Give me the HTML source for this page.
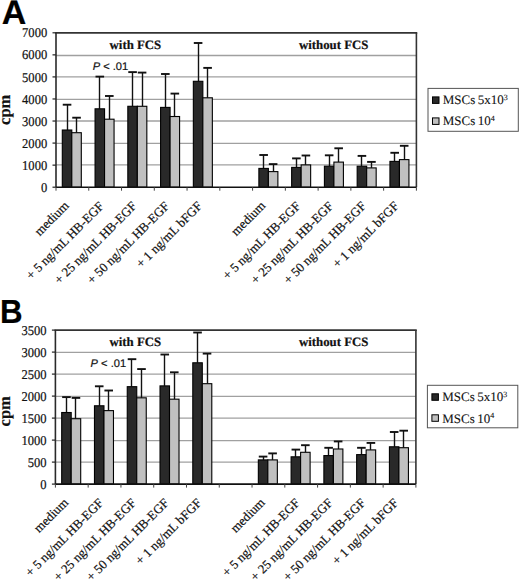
<!DOCTYPE html>
<html><head><meta charset="utf-8"><style>
html,body{margin:0;padding:0;background:#fff;}
body{width:520px;height:581px;overflow:hidden;}
svg{display:block;text-rendering:geometricPrecision;}
text{stroke:#111;stroke-width:0.2px;}
.lg{stroke-width:0.1px;}
.t{font-family:"Liberation Serif",serif;font-size:13.5px;fill:#111;}
.lg{font-family:"Liberation Serif",serif;font-size:13px;fill:#111;word-spacing:-0.8px;}
.xl{font-family:"Liberation Serif",serif;font-size:12.9px;fill:#111;}
.sup{font-size:8px;}
.tb{font-family:"Liberation Serif",serif;font-size:12.8px;font-weight:bold;fill:#111;}
.cpm{font-family:"Liberation Serif",serif;font-size:16.5px;font-weight:bold;fill:#111;}
.let{font-family:"Liberation Sans",sans-serif;font-size:34px;font-weight:bold;fill:#000;}
.p{font-family:"Liberation Sans",sans-serif;font-size:11.1px;fill:#111;}
</style></head><body>
<svg width="520" height="581" viewBox="0 0 520 581">
<rect width="520" height="581" fill="#fff"/>
<line x1="56" y1="164.9" x2="416.4" y2="164.9" stroke="#a0a0a0" stroke-width="1.3"/>
<line x1="56" y1="143.3" x2="416.4" y2="143.3" stroke="#a0a0a0" stroke-width="1.3"/>
<line x1="56" y1="121" x2="416.4" y2="121" stroke="#a0a0a0" stroke-width="1.3"/>
<line x1="56" y1="99.3" x2="416.4" y2="99.3" stroke="#a0a0a0" stroke-width="1.3"/>
<line x1="56" y1="76.9" x2="416.4" y2="76.9" stroke="#a0a0a0" stroke-width="1.3"/>
<line x1="56" y1="55.5" x2="416.4" y2="55.5" stroke="#a0a0a0" stroke-width="1.3"/>
<line x1="52.5" y1="187.2" x2="56" y2="187.2" stroke="#222" stroke-width="1.2"/>
<text x="0" y="0" text-anchor="end" class="t" transform="translate(47.2 191.8) scale(0.93 1)">0</text>
<line x1="52.5" y1="165.14" x2="56" y2="165.14" stroke="#222" stroke-width="1.2"/>
<text x="0" y="0" text-anchor="end" class="t" transform="translate(47.2 169.74) scale(0.93 1)">1000</text>
<line x1="52.5" y1="143.09" x2="56" y2="143.09" stroke="#222" stroke-width="1.2"/>
<text x="0" y="0" text-anchor="end" class="t" transform="translate(47.2 147.69) scale(0.93 1)">2000</text>
<line x1="52.5" y1="121.03" x2="56" y2="121.03" stroke="#222" stroke-width="1.2"/>
<text x="0" y="0" text-anchor="end" class="t" transform="translate(47.2 125.63) scale(0.93 1)">3000</text>
<line x1="52.5" y1="98.97" x2="56" y2="98.97" stroke="#222" stroke-width="1.2"/>
<text x="0" y="0" text-anchor="end" class="t" transform="translate(47.2 103.57) scale(0.93 1)">4000</text>
<line x1="52.5" y1="76.91" x2="56" y2="76.91" stroke="#222" stroke-width="1.2"/>
<text x="0" y="0" text-anchor="end" class="t" transform="translate(47.2 81.51) scale(0.93 1)">5000</text>
<line x1="52.5" y1="54.86" x2="56" y2="54.86" stroke="#222" stroke-width="1.2"/>
<text x="0" y="0" text-anchor="end" class="t" transform="translate(47.2 59.46) scale(0.93 1)">6000</text>
<line x1="52.5" y1="32.8" x2="56" y2="32.8" stroke="#222" stroke-width="1.2"/>
<text x="0" y="0" text-anchor="end" class="t" transform="translate(47.2 37.4) scale(0.93 1)">7000</text>
<line x1="67.5" y1="104.71" x2="67.5" y2="130.01" stroke="#111" stroke-width="1.4"/>
<line x1="62.75" y1="104.71" x2="71.35" y2="104.71" stroke="#111" stroke-width="1.9"/>
<rect x="62.3" y="130.01" width="9.5" height="57.19" fill="#292929" stroke="#000" stroke-width="1.1"/>
<line x1="76.5" y1="117.7" x2="76.5" y2="132.7" stroke="#111" stroke-width="1.4"/>
<line x1="72.25" y1="117.7" x2="80.85" y2="117.7" stroke="#111" stroke-width="1.9"/>
<rect x="71.8" y="132.7" width="9.5" height="54.5" fill="#c0c0c0" stroke="#000" stroke-width="1.1"/>
<line x1="99.5" y1="76.61" x2="99.5" y2="108.81" stroke="#111" stroke-width="1.4"/>
<line x1="95.51" y1="76.61" x2="104.11" y2="76.61" stroke="#111" stroke-width="1.9"/>
<rect x="95.06" y="108.81" width="9.5" height="78.39" fill="#292929" stroke="#000" stroke-width="1.1"/>
<line x1="109.5" y1="95.99" x2="109.5" y2="119.2" stroke="#111" stroke-width="1.4"/>
<line x1="105.01" y1="95.99" x2="113.61" y2="95.99" stroke="#111" stroke-width="1.9"/>
<rect x="104.56" y="119.2" width="9.5" height="68" fill="#c0c0c0" stroke="#000" stroke-width="1.1"/>
<line x1="132.5" y1="72.11" x2="132.5" y2="106.29" stroke="#111" stroke-width="1.4"/>
<line x1="128.28" y1="72.11" x2="136.88" y2="72.11" stroke="#111" stroke-width="1.9"/>
<rect x="127.83" y="106.29" width="9.5" height="80.91" fill="#292929" stroke="#000" stroke-width="1.1"/>
<line x1="142.5" y1="72.59" x2="142.5" y2="106.29" stroke="#111" stroke-width="1.4"/>
<line x1="137.78" y1="72.59" x2="146.38" y2="72.59" stroke="#111" stroke-width="1.9"/>
<rect x="137.33" y="106.29" width="9.5" height="80.91" fill="#c0c0c0" stroke="#000" stroke-width="1.1"/>
<line x1="165.5" y1="74" x2="165.5" y2="107.4" stroke="#111" stroke-width="1.4"/>
<line x1="161.04" y1="74" x2="169.64" y2="74" stroke="#111" stroke-width="1.9"/>
<rect x="160.59" y="107.4" width="9.5" height="79.8" fill="#292929" stroke="#000" stroke-width="1.1"/>
<line x1="174.5" y1="93.59" x2="174.5" y2="116.51" stroke="#111" stroke-width="1.4"/>
<line x1="170.54" y1="93.59" x2="179.14" y2="93.59" stroke="#111" stroke-width="1.9"/>
<rect x="170.09" y="116.51" width="9.5" height="70.69" fill="#c0c0c0" stroke="#000" stroke-width="1.1"/>
<line x1="198.5" y1="42.99" x2="198.5" y2="81.3" stroke="#111" stroke-width="1.4"/>
<line x1="193.8" y1="42.99" x2="202.4" y2="42.99" stroke="#111" stroke-width="1.9"/>
<rect x="193.35" y="81.3" width="9.5" height="105.9" fill="#292929" stroke="#000" stroke-width="1.1"/>
<line x1="207.5" y1="67.89" x2="207.5" y2="97.8" stroke="#111" stroke-width="1.4"/>
<line x1="203.3" y1="67.89" x2="211.9" y2="67.89" stroke="#111" stroke-width="1.9"/>
<rect x="202.85" y="97.8" width="9.5" height="89.4" fill="#c0c0c0" stroke="#000" stroke-width="1.1"/>
<line x1="263.5" y1="155" x2="263.5" y2="168.41" stroke="#111" stroke-width="1.4"/>
<line x1="259.33" y1="155" x2="267.93" y2="155" stroke="#111" stroke-width="1.9"/>
<rect x="258.88" y="168.41" width="9.5" height="18.79" fill="#292929" stroke="#000" stroke-width="1.1"/>
<line x1="273.5" y1="164.11" x2="273.5" y2="171.61" stroke="#111" stroke-width="1.4"/>
<line x1="268.83" y1="164.11" x2="277.43" y2="164.11" stroke="#111" stroke-width="1.9"/>
<rect x="268.38" y="171.61" width="9.5" height="15.59" fill="#c0c0c0" stroke="#000" stroke-width="1.1"/>
<line x1="296.5" y1="158.39" x2="296.5" y2="167.39" stroke="#111" stroke-width="1.4"/>
<line x1="292.1" y1="158.39" x2="300.7" y2="158.39" stroke="#111" stroke-width="1.9"/>
<rect x="291.65" y="167.39" width="9.5" height="19.81" fill="#292929" stroke="#000" stroke-width="1.1"/>
<line x1="305.5" y1="155.5" x2="305.5" y2="164.9" stroke="#111" stroke-width="1.4"/>
<line x1="301.6" y1="155.5" x2="310.2" y2="155.5" stroke="#111" stroke-width="1.9"/>
<rect x="301.15" y="164.9" width="9.5" height="22.3" fill="#c0c0c0" stroke="#000" stroke-width="1.1"/>
<line x1="329.5" y1="155.31" x2="329.5" y2="166.2" stroke="#111" stroke-width="1.4"/>
<line x1="324.86" y1="155.31" x2="333.46" y2="155.31" stroke="#111" stroke-width="1.9"/>
<rect x="324.41" y="166.2" width="9.5" height="21" fill="#292929" stroke="#000" stroke-width="1.1"/>
<line x1="338.5" y1="148.29" x2="338.5" y2="162.1" stroke="#111" stroke-width="1.4"/>
<line x1="334.36" y1="148.29" x2="342.96" y2="148.29" stroke="#111" stroke-width="1.9"/>
<rect x="333.91" y="162.1" width="9.5" height="25.1" fill="#c0c0c0" stroke="#000" stroke-width="1.1"/>
<line x1="361.5" y1="155.9" x2="361.5" y2="166.2" stroke="#111" stroke-width="1.4"/>
<line x1="357.62" y1="155.9" x2="366.22" y2="155.9" stroke="#111" stroke-width="1.9"/>
<rect x="357.17" y="166.2" width="9.5" height="21" fill="#292929" stroke="#000" stroke-width="1.1"/>
<line x1="371.5" y1="161.9" x2="371.5" y2="167.9" stroke="#111" stroke-width="1.4"/>
<line x1="367.12" y1="161.9" x2="375.72" y2="161.9" stroke="#111" stroke-width="1.9"/>
<rect x="366.67" y="167.9" width="9.5" height="19.3" fill="#c0c0c0" stroke="#000" stroke-width="1.1"/>
<line x1="394.5" y1="152.79" x2="394.5" y2="161.39" stroke="#111" stroke-width="1.4"/>
<line x1="390.39" y1="152.79" x2="398.99" y2="152.79" stroke="#111" stroke-width="1.9"/>
<rect x="389.94" y="161.39" width="9.5" height="25.81" fill="#292929" stroke="#000" stroke-width="1.1"/>
<line x1="404.5" y1="145.8" x2="404.5" y2="159.61" stroke="#111" stroke-width="1.4"/>
<line x1="399.89" y1="145.8" x2="408.49" y2="145.8" stroke="#111" stroke-width="1.9"/>
<rect x="399.44" y="159.61" width="9.5" height="27.59" fill="#c0c0c0" stroke="#000" stroke-width="1.1"/>
<line x1="56" y1="32.8" x2="416.4" y2="32.8" stroke="#333" stroke-width="1.7" stroke-linecap="square"/>
<line x1="416.4" y1="32.8" x2="416.4" y2="187.2" stroke="#333" stroke-width="1.6"/>
<line x1="56" y1="32.8" x2="56" y2="187.2" stroke="#2a2a2a" stroke-width="1.6"/>
<line x1="56" y1="187.2" x2="416.4" y2="187.2" stroke="#111" stroke-width="1.6"/>
<line x1="56" y1="187.2" x2="56" y2="190.7" stroke="#444" stroke-width="1"/>
<line x1="88.76" y1="187.2" x2="88.76" y2="190.7" stroke="#444" stroke-width="1"/>
<line x1="121.53" y1="187.2" x2="121.53" y2="190.7" stroke="#444" stroke-width="1"/>
<line x1="154.29" y1="187.2" x2="154.29" y2="190.7" stroke="#444" stroke-width="1"/>
<line x1="187.05" y1="187.2" x2="187.05" y2="190.7" stroke="#444" stroke-width="1"/>
<line x1="219.82" y1="187.2" x2="219.82" y2="190.7" stroke="#444" stroke-width="1"/>
<line x1="252.58" y1="187.2" x2="252.58" y2="190.7" stroke="#444" stroke-width="1"/>
<line x1="285.35" y1="187.2" x2="285.35" y2="190.7" stroke="#444" stroke-width="1"/>
<line x1="318.11" y1="187.2" x2="318.11" y2="190.7" stroke="#444" stroke-width="1"/>
<line x1="350.87" y1="187.2" x2="350.87" y2="190.7" stroke="#444" stroke-width="1"/>
<line x1="383.64" y1="187.2" x2="383.64" y2="190.7" stroke="#444" stroke-width="1"/>
<line x1="416.4" y1="187.2" x2="416.4" y2="190.7" stroke="#444" stroke-width="1"/>
<text x="69.58" y="206.5" text-anchor="end" class="xl" transform="rotate(-45 69.58 206.5)">medium</text>
<text x="104.65" y="206.8" text-anchor="end" class="xl" transform="rotate(-45 104.65 206.8)">+ 5 ng/mL HB-EGF</text>
<text x="137.41" y="206.8" text-anchor="end" class="xl" transform="rotate(-45 137.41 206.8)">+ 25 ng/mL HB-EGF</text>
<text x="170.17" y="206.8" text-anchor="end" class="xl" transform="rotate(-45 170.17 206.8)">+ 50 ng/mL HB-EGF</text>
<text x="202.94" y="206.8" text-anchor="end" class="xl" transform="rotate(-45 202.94 206.8)">+ 1 ng/mL bFGF</text>
<text x="266.16" y="206.5" text-anchor="end" class="xl" transform="rotate(-45 266.16 206.5)">medium</text>
<text x="301.23" y="206.8" text-anchor="end" class="xl" transform="rotate(-45 301.23 206.8)">+ 5 ng/mL HB-EGF</text>
<text x="333.99" y="206.8" text-anchor="end" class="xl" transform="rotate(-45 333.99 206.8)">+ 25 ng/mL HB-EGF</text>
<text x="366.75" y="206.8" text-anchor="end" class="xl" transform="rotate(-45 366.75 206.8)">+ 50 ng/mL HB-EGF</text>
<text x="399.52" y="206.8" text-anchor="end" class="xl" transform="rotate(-45 399.52 206.8)">+ 1 ng/mL bFGF</text>
<text x="10" y="109.8" text-anchor="middle" class="cpm" transform="rotate(-90 10 109.8)">cpm</text>
<text x="0" y="0" class="let" transform="translate(1.7 23.9) scale(1.0 1.0)">A</text>
<text x="135.4" y="48.8" text-anchor="middle" class="tb">with FCS</text>
<text x="333.7" y="48.8" text-anchor="middle" class="tb">without FCS</text>
<text x="92.7" y="70" class="p"><tspan font-style="italic">P</tspan> &lt; .01</text>
<rect x="428" y="88.4" width="90.3" height="42.9" fill="#fff" stroke="#555" stroke-width="1"/>
<rect x="432.5" y="96.9" width="6.5" height="6.5" fill="#292929" stroke="#000" stroke-width="1"/>
<rect x="432.5" y="117.9" width="6.5" height="6.5" fill="#c0c0c0" stroke="#000" stroke-width="1"/>
<text x="442.8" y="103.8" class="lg">MSCs 5x10<tspan class="sup" dy="-4.2">3</tspan></text>
<text x="442.8" y="125.4" class="lg">MSCs 10<tspan class="sup" dy="-4.2">4</tspan></text>
<line x1="55.4" y1="462.1" x2="415.9" y2="462.1" stroke="#a0a0a0" stroke-width="1.3"/>
<line x1="55.4" y1="440.6" x2="415.9" y2="440.6" stroke="#a0a0a0" stroke-width="1.3"/>
<line x1="55.4" y1="418.2" x2="415.9" y2="418.2" stroke="#a0a0a0" stroke-width="1.3"/>
<line x1="55.4" y1="396.4" x2="415.9" y2="396.4" stroke="#a0a0a0" stroke-width="1.3"/>
<line x1="55.4" y1="374.2" x2="415.9" y2="374.2" stroke="#a0a0a0" stroke-width="1.3"/>
<line x1="55.4" y1="352.4" x2="415.9" y2="352.4" stroke="#a0a0a0" stroke-width="1.3"/>
<line x1="51.9" y1="484.1" x2="55.4" y2="484.1" stroke="#222" stroke-width="1.2"/>
<text x="0" y="0" text-anchor="end" class="t" transform="translate(46.6 488.7) scale(0.93 1)">0</text>
<line x1="51.9" y1="462.1" x2="55.4" y2="462.1" stroke="#222" stroke-width="1.2"/>
<text x="0" y="0" text-anchor="end" class="t" transform="translate(46.6 466.7) scale(0.93 1)">500</text>
<line x1="51.9" y1="440.1" x2="55.4" y2="440.1" stroke="#222" stroke-width="1.2"/>
<text x="0" y="0" text-anchor="end" class="t" transform="translate(46.6 444.7) scale(0.93 1)">1000</text>
<line x1="51.9" y1="418.1" x2="55.4" y2="418.1" stroke="#222" stroke-width="1.2"/>
<text x="0" y="0" text-anchor="end" class="t" transform="translate(46.6 422.7) scale(0.93 1)">1500</text>
<line x1="51.9" y1="396.1" x2="55.4" y2="396.1" stroke="#222" stroke-width="1.2"/>
<text x="0" y="0" text-anchor="end" class="t" transform="translate(46.6 400.7) scale(0.93 1)">2000</text>
<line x1="51.9" y1="374.1" x2="55.4" y2="374.1" stroke="#222" stroke-width="1.2"/>
<text x="0" y="0" text-anchor="end" class="t" transform="translate(46.6 378.7) scale(0.93 1)">2500</text>
<line x1="51.9" y1="352.1" x2="55.4" y2="352.1" stroke="#222" stroke-width="1.2"/>
<text x="0" y="0" text-anchor="end" class="t" transform="translate(46.6 356.7) scale(0.93 1)">3000</text>
<line x1="51.9" y1="330.1" x2="55.4" y2="330.1" stroke="#222" stroke-width="1.2"/>
<text x="0" y="0" text-anchor="end" class="t" transform="translate(46.6 334.7) scale(0.93 1)">3500</text>
<line x1="66.5" y1="397.11" x2="66.5" y2="412.51" stroke="#111" stroke-width="1.4"/>
<line x1="62.15" y1="397.11" x2="70.75" y2="397.11" stroke="#111" stroke-width="1.9"/>
<rect x="61.7" y="412.51" width="9.5" height="71.59" fill="#292929" stroke="#000" stroke-width="1.1"/>
<line x1="75.5" y1="397.9" x2="75.5" y2="418.72" stroke="#111" stroke-width="1.4"/>
<line x1="71.65" y1="397.9" x2="80.25" y2="397.9" stroke="#111" stroke-width="1.9"/>
<rect x="71.2" y="418.72" width="9.5" height="65.38" fill="#c0c0c0" stroke="#000" stroke-width="1.1"/>
<line x1="99.5" y1="386.29" x2="99.5" y2="405.78" stroke="#111" stroke-width="1.4"/>
<line x1="94.92" y1="386.29" x2="103.52" y2="386.29" stroke="#111" stroke-width="1.9"/>
<rect x="94.47" y="405.78" width="9.5" height="78.32" fill="#292929" stroke="#000" stroke-width="1.1"/>
<line x1="108.5" y1="390.51" x2="108.5" y2="410.62" stroke="#111" stroke-width="1.4"/>
<line x1="104.42" y1="390.51" x2="113.02" y2="390.51" stroke="#111" stroke-width="1.9"/>
<rect x="103.97" y="410.62" width="9.5" height="73.48" fill="#c0c0c0" stroke="#000" stroke-width="1.1"/>
<line x1="131.5" y1="359.18" x2="131.5" y2="386.68" stroke="#111" stroke-width="1.4"/>
<line x1="127.7" y1="359.18" x2="136.3" y2="359.18" stroke="#111" stroke-width="1.9"/>
<rect x="127.25" y="386.68" width="9.5" height="97.42" fill="#292929" stroke="#000" stroke-width="1.1"/>
<line x1="141.5" y1="369.08" x2="141.5" y2="397.82" stroke="#111" stroke-width="1.4"/>
<line x1="137.2" y1="369.08" x2="145.8" y2="369.08" stroke="#111" stroke-width="1.9"/>
<rect x="136.75" y="397.82" width="9.5" height="86.28" fill="#c0c0c0" stroke="#000" stroke-width="1.1"/>
<line x1="164.5" y1="354.52" x2="164.5" y2="385.89" stroke="#111" stroke-width="1.4"/>
<line x1="160.47" y1="354.52" x2="169.07" y2="354.52" stroke="#111" stroke-width="1.9"/>
<rect x="160.02" y="385.89" width="9.5" height="98.21" fill="#292929" stroke="#000" stroke-width="1.1"/>
<line x1="174.5" y1="372.3" x2="174.5" y2="399.18" stroke="#111" stroke-width="1.4"/>
<line x1="169.97" y1="372.3" x2="178.57" y2="372.3" stroke="#111" stroke-width="1.9"/>
<rect x="169.52" y="399.18" width="9.5" height="84.92" fill="#c0c0c0" stroke="#000" stroke-width="1.1"/>
<line x1="197.5" y1="332.52" x2="197.5" y2="362.79" stroke="#111" stroke-width="1.4"/>
<line x1="193.24" y1="332.52" x2="201.84" y2="332.52" stroke="#111" stroke-width="1.9"/>
<rect x="192.79" y="362.79" width="9.5" height="121.31" fill="#292929" stroke="#000" stroke-width="1.1"/>
<line x1="207.5" y1="353.6" x2="207.5" y2="383.69" stroke="#111" stroke-width="1.4"/>
<line x1="202.74" y1="353.6" x2="211.34" y2="353.6" stroke="#111" stroke-width="1.9"/>
<rect x="202.29" y="383.69" width="9.5" height="100.41" fill="#c0c0c0" stroke="#000" stroke-width="1.1"/>
<line x1="263.5" y1="456.6" x2="263.5" y2="459.9" stroke="#111" stroke-width="1.4"/>
<line x1="258.79" y1="456.6" x2="267.39" y2="456.6" stroke="#111" stroke-width="1.9"/>
<rect x="258.34" y="459.9" width="9.5" height="24.2" fill="#292929" stroke="#000" stroke-width="1.1"/>
<line x1="272.5" y1="453.39" x2="272.5" y2="459.9" stroke="#111" stroke-width="1.4"/>
<line x1="268.29" y1="453.39" x2="276.89" y2="453.39" stroke="#111" stroke-width="1.9"/>
<rect x="267.84" y="459.9" width="9.5" height="24.2" fill="#c0c0c0" stroke="#000" stroke-width="1.1"/>
<line x1="295.5" y1="449.6" x2="295.5" y2="456.82" stroke="#111" stroke-width="1.4"/>
<line x1="291.56" y1="449.6" x2="300.16" y2="449.6" stroke="#111" stroke-width="1.9"/>
<rect x="291.11" y="456.82" width="9.5" height="27.28" fill="#292929" stroke="#000" stroke-width="1.1"/>
<line x1="305.5" y1="445.2" x2="305.5" y2="452.29" stroke="#111" stroke-width="1.4"/>
<line x1="301.06" y1="445.2" x2="309.66" y2="445.2" stroke="#111" stroke-width="1.9"/>
<rect x="300.61" y="452.29" width="9.5" height="31.81" fill="#c0c0c0" stroke="#000" stroke-width="1.1"/>
<line x1="328.5" y1="447.8" x2="328.5" y2="455.59" stroke="#111" stroke-width="1.4"/>
<line x1="324.33" y1="447.8" x2="332.93" y2="447.8" stroke="#111" stroke-width="1.9"/>
<rect x="323.88" y="455.59" width="9.5" height="28.51" fill="#292929" stroke="#000" stroke-width="1.1"/>
<line x1="338.5" y1="441.42" x2="338.5" y2="448.99" stroke="#111" stroke-width="1.4"/>
<line x1="333.83" y1="441.42" x2="342.43" y2="441.42" stroke="#111" stroke-width="1.9"/>
<rect x="333.38" y="448.99" width="9.5" height="35.11" fill="#c0c0c0" stroke="#000" stroke-width="1.1"/>
<line x1="361.5" y1="447.8" x2="361.5" y2="454.62" stroke="#111" stroke-width="1.4"/>
<line x1="357.1" y1="447.8" x2="365.7" y2="447.8" stroke="#111" stroke-width="1.9"/>
<rect x="356.65" y="454.62" width="9.5" height="29.48" fill="#292929" stroke="#000" stroke-width="1.1"/>
<line x1="370.5" y1="442.92" x2="370.5" y2="449.91" stroke="#111" stroke-width="1.4"/>
<line x1="366.6" y1="442.92" x2="375.2" y2="442.92" stroke="#111" stroke-width="1.9"/>
<rect x="366.15" y="449.91" width="9.5" height="34.19" fill="#c0c0c0" stroke="#000" stroke-width="1.1"/>
<line x1="394.5" y1="432" x2="394.5" y2="446.79" stroke="#111" stroke-width="1.4"/>
<line x1="389.88" y1="432" x2="398.48" y2="432" stroke="#111" stroke-width="1.9"/>
<rect x="389.43" y="446.79" width="9.5" height="37.31" fill="#292929" stroke="#000" stroke-width="1.1"/>
<line x1="403.5" y1="430.68" x2="403.5" y2="447.71" stroke="#111" stroke-width="1.4"/>
<line x1="399.38" y1="430.68" x2="407.98" y2="430.68" stroke="#111" stroke-width="1.9"/>
<rect x="398.93" y="447.71" width="9.5" height="36.39" fill="#c0c0c0" stroke="#000" stroke-width="1.1"/>
<line x1="55.4" y1="330.1" x2="415.9" y2="330.1" stroke="#333" stroke-width="1.7" stroke-linecap="square"/>
<line x1="415.9" y1="330.1" x2="415.9" y2="484.1" stroke="#333" stroke-width="1.6"/>
<line x1="55.4" y1="330.1" x2="55.4" y2="484.1" stroke="#2a2a2a" stroke-width="1.6"/>
<line x1="55.4" y1="484.1" x2="415.9" y2="484.1" stroke="#111" stroke-width="1.6"/>
<line x1="55.4" y1="484.1" x2="55.4" y2="487.6" stroke="#444" stroke-width="1"/>
<line x1="88.17" y1="484.1" x2="88.17" y2="487.6" stroke="#444" stroke-width="1"/>
<line x1="120.95" y1="484.1" x2="120.95" y2="487.6" stroke="#444" stroke-width="1"/>
<line x1="153.72" y1="484.1" x2="153.72" y2="487.6" stroke="#444" stroke-width="1"/>
<line x1="186.49" y1="484.1" x2="186.49" y2="487.6" stroke="#444" stroke-width="1"/>
<line x1="219.26" y1="484.1" x2="219.26" y2="487.6" stroke="#444" stroke-width="1"/>
<line x1="252.04" y1="484.1" x2="252.04" y2="487.6" stroke="#444" stroke-width="1"/>
<line x1="284.81" y1="484.1" x2="284.81" y2="487.6" stroke="#444" stroke-width="1"/>
<line x1="317.58" y1="484.1" x2="317.58" y2="487.6" stroke="#444" stroke-width="1"/>
<line x1="350.35" y1="484.1" x2="350.35" y2="487.6" stroke="#444" stroke-width="1"/>
<line x1="383.13" y1="484.1" x2="383.13" y2="487.6" stroke="#444" stroke-width="1"/>
<line x1="415.9" y1="484.1" x2="415.9" y2="487.6" stroke="#444" stroke-width="1"/>
<text x="68.99" y="503.4" text-anchor="end" class="xl" transform="rotate(-45 68.99 503.4)">medium</text>
<text x="104.06" y="503.7" text-anchor="end" class="xl" transform="rotate(-45 104.06 503.7)">+ 5 ng/mL HB-EGF</text>
<text x="136.83" y="503.7" text-anchor="end" class="xl" transform="rotate(-45 136.83 503.7)">+ 25 ng/mL HB-EGF</text>
<text x="169.6" y="503.7" text-anchor="end" class="xl" transform="rotate(-45 169.6 503.7)">+ 50 ng/mL HB-EGF</text>
<text x="202.38" y="503.7" text-anchor="end" class="xl" transform="rotate(-45 202.38 503.7)">+ 1 ng/mL bFGF</text>
<text x="265.62" y="503.4" text-anchor="end" class="xl" transform="rotate(-45 265.62 503.4)">medium</text>
<text x="300.7" y="503.7" text-anchor="end" class="xl" transform="rotate(-45 300.7 503.7)">+ 5 ng/mL HB-EGF</text>
<text x="333.47" y="503.7" text-anchor="end" class="xl" transform="rotate(-45 333.47 503.7)">+ 25 ng/mL HB-EGF</text>
<text x="366.24" y="503.7" text-anchor="end" class="xl" transform="rotate(-45 366.24 503.7)">+ 50 ng/mL HB-EGF</text>
<text x="399.01" y="503.7" text-anchor="end" class="xl" transform="rotate(-45 399.01 503.7)">+ 1 ng/mL bFGF</text>
<text x="10" y="411.3" text-anchor="middle" class="cpm" transform="rotate(-90 10 411.3)">cpm</text>
<text x="0" y="0" class="let" transform="translate(0.1 323) scale(0.92 0.98)">B</text>
<text x="135.3" y="346.2" text-anchor="middle" class="tb">with FCS</text>
<text x="333.7" y="346.2" text-anchor="middle" class="tb">without FCS</text>
<text x="90.6" y="367" class="p"><tspan font-style="italic">P</tspan> &lt; .01</text>
<rect x="427.4" y="385.3" width="90.4" height="42.5" fill="#fff" stroke="#555" stroke-width="1"/>
<rect x="431.9" y="393.8" width="6.5" height="6.5" fill="#292929" stroke="#000" stroke-width="1"/>
<rect x="431.9" y="414.8" width="6.5" height="6.5" fill="#c0c0c0" stroke="#000" stroke-width="1"/>
<text x="442.2" y="401.3" class="lg">MSCs 5x10<tspan class="sup" dy="-4.2">3</tspan></text>
<text x="442.2" y="422.5" class="lg">MSCs 10<tspan class="sup" dy="-4.2">4</tspan></text>
</svg>
</body></html>
